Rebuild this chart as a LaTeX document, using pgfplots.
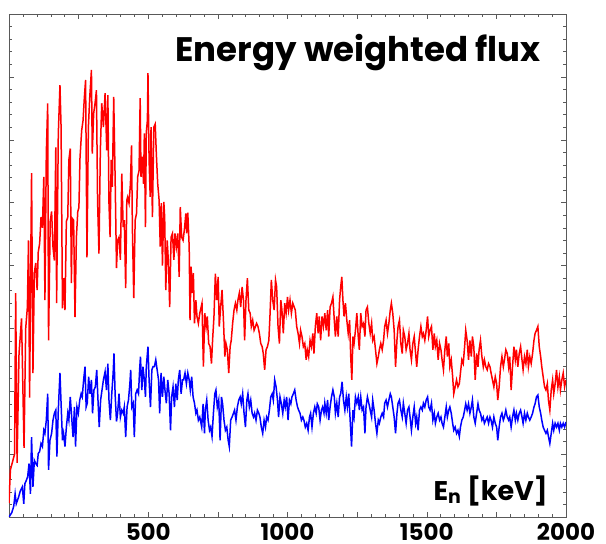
\documentclass[border=0pt]{standalone}
\usepackage{pgfplots}
\pgfplotsset{compat=1.18}
\usepackage{fontspec}
\setmainfont{Poppins}
\begin{document}
\begin{tikzpicture}
\useasboundingbox (0,0) rectangle (606pt,544pt);
\begin{axis}[
  at={(9pt,27pt)}, anchor=south west,
  scale only axis, width=557pt, height=503pt,
  xmin=0, xmax=2000, ymin=0, ymax=8,
  xtick={0,250,...,2000},
  xticklabels={{},{},500,{},1000,{},1500,{},2000},
  minor x tick num=4,
  ytick={0,1,...,8}, yticklabels={},
  minor y tick num=4,
  tick align=inside,
  major tick length=5pt, minor tick length=3pt,
  every tick/.style={gray!70!black, line width=0.5pt},
  axis line style={gray!70!black, line width=0.7pt},
  tick label style={font=\fontsize{23}{23}\selectfont\bfseries},
  xticklabel style={anchor=north, inner sep=0pt, text depth=0pt, yshift=-6pt},
  /pgf/number format/assume math mode=true,
  clip=true,
]
\addplot[red, line width=1.5pt] coordinates {
(0,0.22)(5,0.75)(20,1.0)(24,3.56)(29,0.86)(36,2.6)(45,3.16)(54,1.1)(60,3.0)(66,3.34)(70,4.4)(74,1.9)(79,4.5)(81,5.47)(86,2.29)(91,3.88)(96,4.04)(101,3.61)(105,4.21)(110,4.35)(115,4.77)(120,4.6)(125,5.41)(129,3.45)(134,5.79)(139,6.58)(142,2.81)(148,4.7)(153,4.86)(158,4.29)(163,4.08)(168,5.88)(171,3.40)(177,6.09)(183,6.87)(187,6.2)(192,3.32)(196,3.8)(201,3.29)(206,4.7)(211,4.77)(215,5.68)(220,5.86)(224,3.72)(227,4.75)(232,4.72)(237,3.18)(242,4.45)(247,4.86)(251,4.92)(255,5.72)(261,6.15)(266,6.31)(270,6.63)(275,6.95)(280,4.13)(285,6.2)(290,6.68)(296,7.11)(299,5.78)(304,6.42)(309,6.58)(314,6.79)(318,5.04)(323,4.19)(328,5.83)(333,6.58)(339,6.2)
(345,6.74)(351,5.83)(355,6.71)(359,4.99)(363,4.45)(367,5.68)(371,5.25)(376,6.68)(381,5.41)(386,3.96)(390,4.4)(395,4.45)(400,4.09)(405,5.46)(410,4.61)(414,4.72)(419,3.64)(423,5.04)(426,5.09)(431,4.99)(436,5.3)(440,5.91)(443,4.61)(448,3.48)(453,4.72)(458,4.83)(462,5.41)(467,5.51)(471,6.66)(474,5.41)(479,5.73)(483,5.3)(486,6.1)(490,4.61)(493,6.12)(497,6.31)(499,7.06)(503,5.68)(507,5.09)(510,6.2)(515,4.77)(520,6.2)(525,6.25)(529,5.78)(534,5.3)(539,5.04)(543,4.3)(547,4.99)(551,4.0)(556,5.01)(559,4.77)(563,3.61)(568,4.4)(572,4.09)(577,3.34)(582,4.45)(587,4.51)(592,4.09)(596,4.51)(601,4.3)(606,4.51)(611,3.82)(615,4.93)(620,4.45)(625,4.4)(630,4.58)(635,4.83)(638,4.51)(642,4.84)(647,4.3)(650,3.13)(654,3.98)(657,3.56)(662,3.88)(666,3.08)(671,3.45)(675,3.19)(680,3.08)(685,3.24)
(693,3.4)(698,2.39)(703,3.24)(708,3.03)(712,3.19)(717,2.76)(722,2.71)(727,2.44)(731,2.81)(736,3.19)(741,3.87)(746,3.45)(751,3.82)(755,3.03)(760,3.34)(765,3.61)(770,3.13)(775,2.55)(779,2.76)(784,2.66)(789,2.29)(794,2.71)(798,2.81)(803,3.08)(808,3.29)(813,3.4)(818,3.29)(822,3.45)(827,3.56)(832,3.34)(837,3.66)(842,3.45)(846,2.81)(851,3.45)(856,3.8)(861,3.29)(866,3.24)(870,3.03)(875,3.13)(880,2.97)(885,3.03)(889,3.08)(894,3.03)(899,2.92)(904,2.76)(909,2.71)(913,2.6)(918,2.34)(923,2.66)(928,2.71)(933,2.81)(937,3.19)(942,3.77)(947,3.45)(952,3.29)(957,3.77)(961,3.66)(966,3.03)(971,2.76)(976,3.45)(980,3.29)(985,2.92)(990,3.4)(995,3.24)(1000,3.5)(1004,3.29)(1009,3.45)(1014,3.24)(1019,3.4)(1024,3.34)(1028,3.29)(1033,3.03)(1038,2.92)(1043,2.76)(1047,2.97)(1052,2.87)(1057,2.71)(1062,2.76)(1067,2.5)(1071,2.66)(1076,2.55)(1081,2.81)(1086,2.71)(1091,2.92)(1095,2.6)(1100,3.03)(1105,3.24)(1110,2.92)(1114,3.19)(1119,2.81)(1124,3.19)(1129,3.03)
(1134,3.24)(1139,2.97)(1144,3.29)(1148,2.87)(1153,3.34)(1158,3.4)(1163,3.5)(1168,3.13)(1172,2.87)(1177,3.19)(1182,2.87)(1187,3.45)(1191,3.66)(1195,3.82)(1199,3.45)(1203,3.19)(1208,3.4)(1213,3.13)(1218,2.92)(1223,3.13)(1227,2.55)(1231,2.18)(1235,2.87)(1239,2.76)(1244,2.97)(1249,3.24)(1254,2.87)(1258,2.66)(1263,3.24)(1268,3.03)(1273,3.08)(1278,2.87)(1282,3.29)(1287,3.34)(1292,3.08)(1297,2.92)(1302,3.08)(1306,2.81)(1311,2.87)(1316,2.66)(1321,2.44)(1326,2.55)(1330,2.66)(1335,2.76)(1340,2.66)(1345,2.81)(1349,3.03)(1354,3.13)(1359,2.92)(1364,3.08)(1369,3.29)(1373,3.4)(1378,3.24)(1383,2.97)(1388,2.39)(1393,2.81)(1397,3.03)(1402,3.13)(1407,2.76)(1412,2.6)(1416,2.97)(1421,2.87)(1426,2.66)(1431,2.76)(1436,2.92)(1440,2.66)(1445,2.5)(1450,2.76)(1455,2.87)(1460,2.6)(1464,2.39)(1469,2.66)(1474,2.87)(1479,3.03)(1484,2.87)(1488,2.92)(1493,2.81)(1498,2.97)(1503,3.19)(1507,2.87)(1512,2.97)(1517,3.03)(1522,2.66)(1527,2.92)(1531,2.71)(1536,2.81)(1541,2.5)(1546,2.76)(1551,2.66)(1555,2.5)(1560,2.34)(1565,2.66)(1570,2.87)(1574,2.55)(1579,2.76)
(1583,2.39)(1588,2.5)(1593,2.23)(1597,1.96)(1602,2.07)(1607,2.18)(1612,2.07)(1617,2.12)(1621,2.29)(1626,2.5)(1631,2.44)(1636,2.71)(1640,2.97)(1645,2.81)(1650,2.5)(1655,2.81)(1660,2.55)(1664,2.87)(1669,2.71)(1674,2.18)(1679,2.6)(1684,2.39)(1688,2.66)(1693,2.81)(1698,2.55)(1703,2.39)(1707,2.5)(1712,2.39)(1717,2.34)(1722,2.44)(1727,2.39)(1731,2.29)(1736,2.18)(1741,2.07)(1746,2.23)(1751,2.12)(1755,1.86)(1760,2.07)(1765,2.39)(1770,2.55)(1775,2.39)(1779,2.5)(1784,2.66)(1789,2.6)(1794,2.39)(1798,2.55)(1803,2.02)(1808,2.39)(1813,2.71)(1818,2.5)(1822,2.66)(1827,2.39)(1832,2.6)(1837,2.71)(1842,2.5)(1846,2.34)(1851,2.55)(1856,2.44)(1861,2.66)(1865,2.39)(1870,2.55)(1875,2.44)(1880,2.6)(1885,2.81)(1889,2.92)(1894,2.97)(1899,3.03)(1904,2.71)(1909,2.55)(1913,2.39)(1918,2.23)(1923,2.07)(1928,2.02)(1933,2.12)(1937,1.86)(1942,1.7)(1947,2.02)(1952,2.18)(1956,1.96)(1961,2.12)(1966,2.34)(1971,2.07)(1976,2.23)(1980,2.02)(1985,2.18)(1990,2.29)(1995,2.07)(2000,2.18)
};
\addplot[blue, line width=1.5pt] coordinates {
(0,0)(10,0.07)(17,0.17)(22,0.37)(26,0.21)(34,0.31)(41,0.42)(48,0.48)(53,0.21)(57,0.53)(62,0.58)(67,0.64)(72,0.85)(77,0.37)(81,1.27)(86,0.48)(91,0.9)(96,0.85)(101,0.82)(105,1.01)(110,1.04)(115,1.17)(120,1.12)(125,1.38)(129,1.33)(134,1.54)(139,1.96)(142,0.75)(147,1.22)(153,1.33)(158,1.54)(163,1.65)(168,1.7)(172,0.96)(177,1.7)(183,2.29)(187,1.81)(192,1.22)(196,1.33)(201,1.12)(206,1.43)(211,1.65)(215,1.54)(220,1.91)(225,1.59)(230,1.27)(235,1.75)(239,1.12)(244,1.75)(249,1.65)(254,1.86)(259,1.96)(263,1.91)(268,2.18)(273,2.39)(277,1.75)(281,1.81)(286,2.23)(291,1.96)(296,2.18)(300,1.65)(305,2.02)(310,2.07)(315,2.34)(320,1.81)(324,1.43)(329,1.86)(334,2.02)(339,2.18)
(345,2.31)(350,2.02)(355,2.44)(359,1.86)(364,1.54)(369,1.96)(374,2.29)(377,2.6)(381,1.96)(386,1.52)(390,1.65)(395,1.96)(400,1.59)(405,1.7)(410,1.65)(414,1.75)(419,1.27)(424,1.75)(429,1.86)(434,2.12)(437,2.34)(441,1.75)(446,1.81)(450,1.27)(455,1.96)(460,2.02)(465,1.96)(469,2.34)(472,2.55)(477,2.02)(481,2.39)(486,2.18)(490,1.91)(493,2.39)(499,2.71)(503,2.18)(508,1.75)(513,2.34)(517,2.39)(522,2.39)(527,2.5)(532,2.34)(537,2.18)(541,1.65)(546,2.29)(551,1.91)(556,2.23)(560,2.02)(565,1.81)(570,2.18)(575,1.96)(580,1.38)(584,1.91)(589,2.07)(594,1.75)(599,2.12)(604,1.86)(608,2.18)(613,2.34)(618,1.96)(623,2.18)(627,2.18)(632,2.29)(637,2.12)(642,2.29)(647,2.18)(651,2.02)(656,2.23)(661,1.91)(666,1.81)(671,1.65)(675,1.7)(680,1.54)(685,1.59)
(692,1.43)(697,1.8)(702,1.33)(705,1.7)(710,1.86)(715,1.54)(720,1.38)(724,1.43)(729,1.28)(734,1.65)(739,1.96)(743,2.02)(748,1.75)(753,1.86)(758,1.22)(763,1.91)(767,1.8)(772,1.54)(777,1.38)(782,1.43)(787,1.22)(791,1.12)(796,1.54)(801,1.59)(806,1.65)(810,1.7)(815,1.54)(820,1.75)(825,1.86)(830,1.91)(834,1.8)(839,1.96)(844,1.65)(849,1.43)(854,1.86)(858,1.96)(863,1.75)(868,1.86)(873,1.65)(878,1.59)(882,1.65)(887,1.54)(892,1.7)(897,1.65)(901,1.59)(906,1.43)(911,1.33)(916,1.54)(921,1.43)(925,1.59)(930,1.54)(935,1.7)(940,1.91)(945,1.96)(949,1.86)(954,2.18)(959,2.07)(964,1.86)(968,1.59)(973,1.91)(978,1.8)(983,1.65)(988,1.86)(992,1.75)(997,1.91)(1002,1.54)(1007,1.86)(1012,1.8)(1016,1.91)(1021,1.96)(1026,2.02)(1031,1.86)(1036,1.75)(1040,1.7)(1045,1.65)(1050,1.54)(1055,1.59)(1059,1.54)(1064,1.43)(1069,1.49)(1074,1.38)(1079,1.59)(1083,1.65)(1088,1.43)(1093,1.65)(1098,1.75)(1103,1.65)(1107,1.8)(1112,1.75)(1117,1.54)(1122,1.7)(1126,1.75)(1131,1.65)
(1134,1.81)(1139,1.65)(1144,1.86)(1148,1.54)(1153,1.75)(1158,1.91)(1163,2.02)(1168,1.91)(1172,1.65)(1177,1.81)(1182,1.59)(1187,1.91)(1191,1.96)(1196,2.15)(1201,1.86)(1206,1.7)(1211,1.91)(1215,1.75)(1220,1.96)(1225,1.54)(1230,1.12)(1235,1.7)(1239,1.59)(1244,1.91)(1249,1.81)(1254,1.91)(1258,1.7)(1263,1.91)(1268,1.7)(1273,1.75)(1278,1.33)(1282,1.75)(1287,1.91)(1292,1.81)(1297,1.7)(1302,1.59)(1306,1.86)(1311,1.7)(1316,1.49)(1321,1.33)(1326,1.54)(1330,1.49)(1335,1.59)(1340,1.65)(1345,1.59)(1349,1.81)(1354,1.86)(1359,1.75)(1364,1.86)(1369,1.96)(1373,1.91)(1378,1.75)(1383,1.59)(1388,1.33)(1393,1.65)(1397,1.81)(1402,1.86)(1407,1.7)(1412,1.59)(1416,1.81)(1421,1.65)(1426,1.49)(1431,1.7)(1436,1.75)(1440,1.59)(1445,1.38)(1450,1.59)(1455,1.75)(1460,1.49)(1464,1.59)(1469,1.38)(1474,1.7)(1479,1.75)(1484,1.7)(1488,1.81)(1493,1.75)(1498,1.86)(1503,1.91)(1507,1.75)(1512,1.7)(1517,1.81)(1522,1.54)(1527,1.65)(1531,1.49)(1536,1.59)(1541,1.65)(1546,1.54)(1551,1.59)(1555,1.49)(1560,1.43)(1565,1.59)(1570,1.75)(1574,1.59)(1579,1.7)
(1583,1.75)(1588,1.65)(1593,1.49)(1597,1.38)(1602,1.43)(1607,1.33)(1612,1.38)(1617,1.28)(1621,1.43)(1626,1.54)(1631,1.59)(1636,1.7)(1640,1.8)(1645,1.7)(1650,1.8)(1655,1.65)(1660,1.75)(1664,1.86)(1669,1.59)(1674,1.49)(1679,1.65)(1684,1.8)(1688,1.7)(1693,1.65)(1698,1.54)(1703,1.59)(1707,1.49)(1712,1.54)(1717,1.59)(1722,1.49)(1727,1.59)(1731,1.54)(1736,1.43)(1741,1.59)(1746,1.49)(1751,1.43)(1755,1.22)(1760,1.43)(1765,1.59)(1770,1.65)(1775,1.54)(1779,1.59)(1784,1.7)(1789,1.59)(1794,1.54)(1798,1.59)(1803,1.43)(1808,1.59)(1813,1.7)(1818,1.54)(1822,1.65)(1827,1.54)(1832,1.65)(1837,1.7)(1842,1.59)(1846,1.49)(1851,1.65)(1856,1.54)(1861,1.65)(1865,1.59)(1870,1.54)(1875,1.59)(1880,1.65)(1885,1.75)(1889,1.8)(1894,1.91)(1899,1.94)(1904,1.75)(1909,1.65)(1913,1.54)(1918,1.43)(1923,1.38)(1928,1.33)(1933,1.38)(1937,1.28)(1942,1.17)(1947,1.33)(1952,1.49)(1956,1.38)(1961,1.49)(1966,1.43)(1971,1.49)(1976,1.38)(1980,1.49)(1985,1.43)(1990,1.49)(1995,1.43)(2000,1.51)
};
\node[anchor=base east, font=\fontsize{34}{34}\selectfont\bfseries, inner sep=0pt] at (axis cs:1910,7.24) {Energy weighted flux};
\node[anchor=base east, font=\fontsize{27}{27}\selectfont\bfseries, inner sep=0pt] at (axis cs:1935,0.27) {E\textsubscript{n} [keV]};
\end{axis}
\end{tikzpicture}
\end{document}
